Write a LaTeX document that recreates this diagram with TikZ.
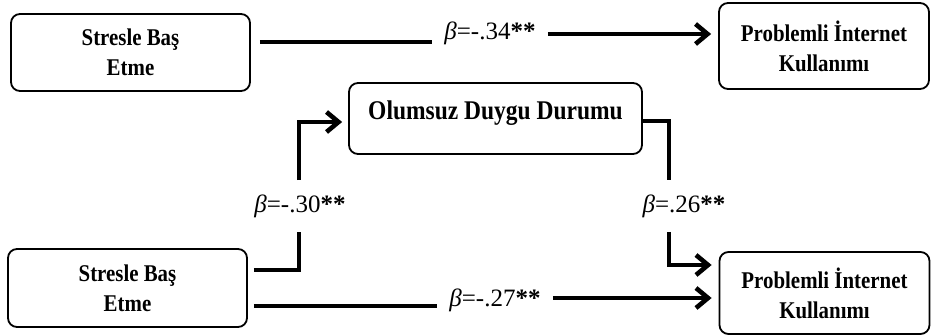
\documentclass[tikz,border=0pt]{standalone}
\usepackage{fontspec}
\setmainfont{Liberation Serif}
\newfontfamily\kutufont[FakeStretch=0.87]{Liberation Serif}
\usetikzlibrary{arrows.meta}
\tikzset{
  kutu/.style={draw, line width=0.9pt, rounded corners=4.5pt, align=center, inner sep=0pt,
    font=\kutufont\bfseries\fontsize{12}{15}\selectfont},
  etiket/.style={font=\fontsize{12.5}{14}\selectfont, inner xsep=6pt, inner ysep=7pt},
  cizgi/.style={line width=2.3pt},
  ok/.style={cizgi, -{Straight Barb[length=6pt,width=10pt]}},
}
\begin{document}
\begin{tikzpicture}[x=0.5pt,y=-0.5pt]
\useasboundingbox (0,0) rectangle (931,336);

% Boxes
\node[kutu, minimum width=119.5pt, minimum height=38.5pt] (stres1) at (130.5,52.5) {Stresle Baş\\Etme};
\node[kutu, minimum width=105pt, minimum height=43pt] (pik1) at (824,46) {Problemli İnternet\\Kullanımı};
\node[kutu, minimum width=146.5pt, minimum height=35.5pt, text depth=8pt,
  font=\kutufont\bfseries\fontsize{13.5}{16}\selectfont] (duygu) at (495.5,118.5) {Olumsuz Duygu Durumu};
\node[kutu, minimum width=119.5pt, minimum height=39pt] (stres2) at (127.5,288) {Stresle Baş\\Etme};
\node[kutu, minimum width=105pt, minimum height=41pt] (pik2) at (824.5,293) {Problemli İnternet\\Kullanımı};

% Text Node
\node[etiket] (b34) at (490,33) {\textit{β}=-.34\textbf{**}};
\node[etiket] (b30) at (300,206) {\textit{β}=-.30\textbf{**}};
\node[etiket] (b26) at (684,206) {\textit{β}=.26\textbf{**}};
\node[etiket] (b27) at (495,300) {\textit{β}=-.27\textbf{**}};

%Straight Lines
\draw[cizgi, shorten <=4.5pt] (stres1.east |- 0,42) -- (b34.west |- 0,42);
\draw[ok, shorten >=3.5pt] (b34.east |- 0,34) -- (pik1.west |- 0,34);
\draw[cizgi, shorten <=3pt] (stres2.east |- 0,270) -| (b30.south -| 299,0);
\draw[ok, shorten >=3pt] (b30.north -| 299,0) |- (duygu.west |- 0,122);
\draw[cizgi] (duygu.east |- 0,121) -| (b26.north -| 669,0);
\draw[ok, shorten >=3.5pt] (b26.south -| 669,0) |- (pik2.west |- 0,265);
\draw[cizgi, shorten <=3pt] (stres2.east |- 0,306) -- (b27.west |- 0,306);
\draw[ok, shorten >=3.5pt] (b27.east |- 0,298) -- (pik2.west |- 0,298);

\end{tikzpicture}
\end{document}
